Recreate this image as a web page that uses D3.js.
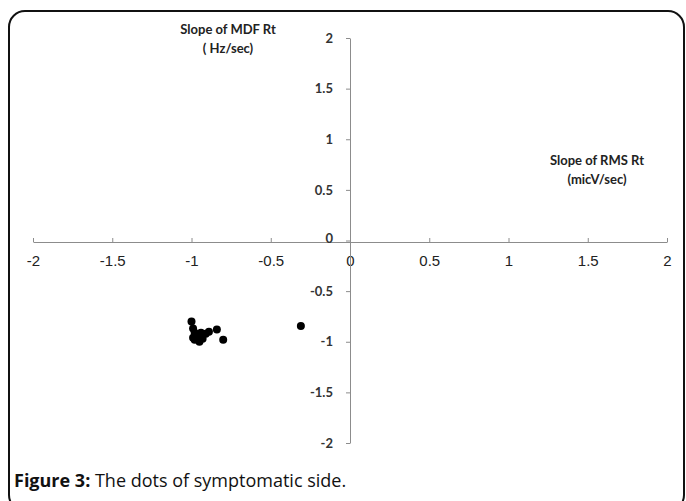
<!DOCTYPE html>
<html><head><meta charset="utf-8">
<script src="https://cdn.jsdelivr.net/npm/d3@7"></script>
<style>body{margin:0;background:#fff}svg{display:block}</style>
</head><body>
<svg id="c" width="686" height="501"></svg>
<script>
const xTicks = [-2, -1.5, -1, -0.5, 0, 0.5, 1, 1.5, 2];
const yTicks = [-2, -1.5, -1, -0.5, 0, 0.5, 1, 1.5, 2];
const rmsSlope = [-1.00, -0.99, -0.98, -0.98, -0.99, -0.96, -0.94, -0.95, -0.91, -0.89, -0.84, -0.80, -0.31, -0.97, -0.93];
const mdfSlope = [-0.80, -0.87, -0.91, -0.98, -0.96, -0.95, -0.91, -1.00, -0.92, -0.90, -0.88, -0.98, -0.845, -0.93, -0.97];
const xTitle = ["Slope of RMS Rt", "(micV/sec)"];
const yTitle = ["Slope of MDF Rt", "( Hz/sec)"];
const captionBold = "Figure 3:";
const captionText = " The dots of symptomatic side.";

const svg = d3.select("#c");
svg.append("rect").attr("x", 9).attr("y", 11).attr("width", 675).attr("height", 500)
  .attr("rx", 16).attr("fill", "none").attr("stroke", "#111").attr("stroke-width", 2);

const x = d3.scaleLinear().domain([-2, 2]).range([33, 667]);
const y = d3.scaleLinear().domain([-2, 2]).range([443, 38]);
const fmt = d => String(d);

const gx = svg.append("g").attr("transform", `translate(0,${y(0) + 1.5})`)
  .call(d3.axisBottom(x).tickValues(xTicks).tickSizeInner(-4).tickSizeOuter(0).tickPadding(13).tickFormat(fmt));
gx.selectAll("path,line").attr("stroke", "#8c8c8c");
gx.selectAll("text").attr("fill", "#222").style("font-family", "Liberation Sans, Arial, sans-serif").style("font-size", "15px");

const gy = svg.append("g").attr("transform", `translate(${x(0)},0)`)
  .call(d3.axisLeft(y).tickValues(yTicks).tickSizeInner(4).tickSizeOuter(0).tickPadding(13).tickFormat(fmt));
gy.selectAll("path,line").attr("stroke", "#8c8c8c");
gy.selectAll("text").attr("fill", "#333").style("font-family", "Lato, 'Open Sans', sans-serif").style("font-weight", "bold").style("font-size", "13px")
  .attr("dy", d => d === 0 ? "0.15em" : "0.32em");

svg.append("g").selectAll("circle").data(rmsSlope.map((v, i) => [v, mdfSlope[i]]))
  .join("circle").attr("cx", d => x(d[0])).attr("cy", d => y(d[1])).attr("r", 4).attr("fill", "#000");

const tfont = "Lato, 'Open Sans', sans-serif";
yTitle.forEach((t, i) => svg.append("text").attr("x", 228).attr("y", 34 + i * 19).attr("text-anchor", "middle")
  .style("font-family", tfont).style("font-weight", "bold").style("font-size", "13px").attr("fill", "#222").text(t));
xTitle.forEach((t, i) => svg.append("text").attr("x", 597).attr("y", 165 + i * 19).attr("text-anchor", "middle")
  .style("font-family", tfont).style("font-weight", "bold").style("font-size", "13px").attr("fill", "#222").text(t));

const cap = svg.append("text").attr("x", 14).attr("y", 487).style("font-family", "'Open Sans', Lato, sans-serif").style("font-size", "18px").attr("fill", "#111");
cap.append("tspan").style("font-weight", "bold").text(captionBold);
cap.append("tspan").text(captionText);
</script>
</body></html>
